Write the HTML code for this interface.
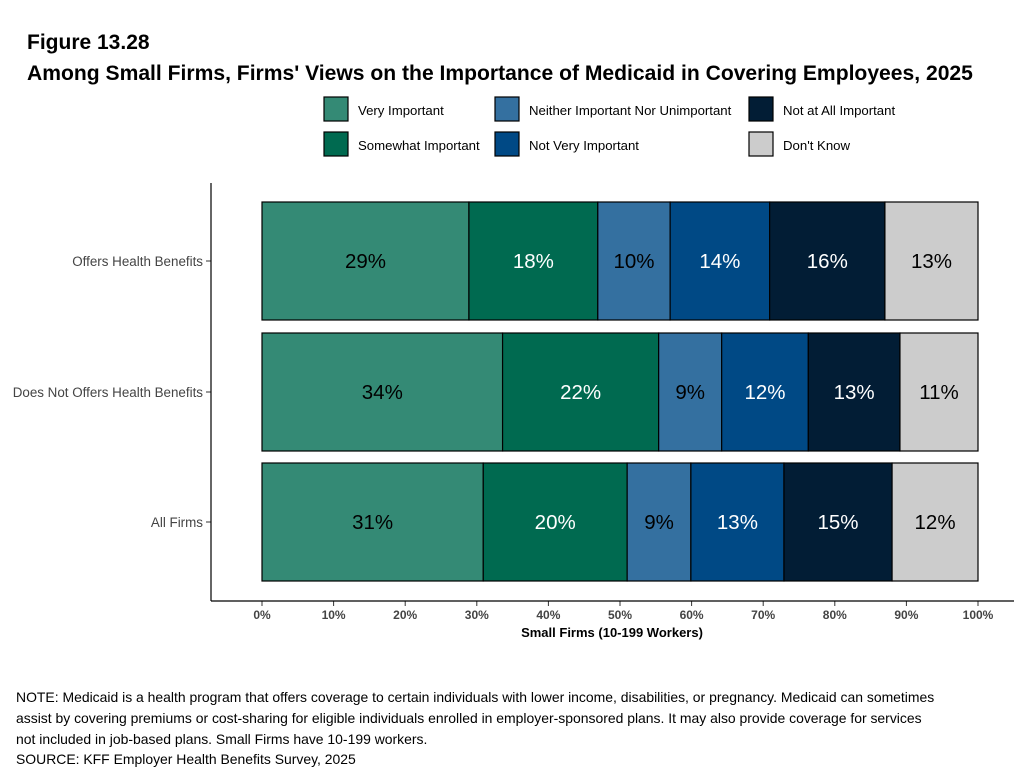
<!DOCTYPE html>
<html><head><meta charset="utf-8"><style>
body{margin:0;background:#fff;width:1023px;height:770px;overflow:hidden;font-family:"Liberation Sans",Arial,sans-serif}
</style></head><body>
<svg width="1023" height="770" font-family="Liberation Sans, Arial, sans-serif">
<text x="27" y="49" font-size="21" font-weight="bold">Figure 13.28</text>
<text x="27" y="80" font-size="21.1" font-weight="bold">Among Small Firms, Firms' Views on the Importance of Medicaid in Covering Employees, 2025</text>
<g id="legend"></g>
<g id="plot"></g>
<line x1="211" y1="183" x2="211" y2="601" stroke="#000" stroke-width="1.2"/>
<line x1="211" y1="601" x2="1014" y2="601" stroke="#000" stroke-width="1.2"/>
<text x="612" y="637" font-size="13" font-weight="bold" text-anchor="middle">Small Firms (10-199 Workers)</text>
<g font-size="13.95">
<text x="16" y="702">NOTE: Medicaid is a health program that offers coverage to certain individuals with lower income, disabilities, or pregnancy. Medicaid can sometimes</text>
<text x="16" y="723">assist by covering premiums or cost-sharing for eligible individuals enrolled in employer-sponsored plans. It may also provide coverage for services</text>
<text x="16" y="744">not included in job-based plans. Small Firms have 10-199 workers.</text>
<text x="16" y="764">SOURCE: KFF Employer Health Benefits Survey, 2025</text>
</g>
</svg>
<script>
const categories=["Offers Health Benefits","Does Not Offers Health Benefits","All Firms"];
const seriesNames=["Very Important","Somewhat Important","Neither Important Nor Unimportant","Not Very Important","Not at All Important","Don't Know"];
const veryImportant=[28.9,33.6,30.9];
const somewhatImportant=[18.0,21.8,20.1];
const neither=[10.1,8.8,8.9];
const notVery=[13.9,12.1,13.0];
const notAtAll=[16.1,12.8,15.1];
const dontKnow=[13.0,10.9,12.0];
const xTicks=[0,10,20,30,40,50,60,70,80,90,100];
const series=[veryImportant,somewhatImportant,neither,notVery,notAtAll,dontKnow];
const colors=["#348a75","#006a50","#3470a0","#004985","#021d35","#cccccc"];
const textColors=["#000","#fff","#000","#fff","#fff","#000"];
const NS="http://www.w3.org/2000/svg";
const x=v=>262+v*7.16;
const rowTop=[202,333,463], bh=118;
const plot=document.getElementById('plot');
function mk(t,a,p){const e=document.createElementNS(NS,t);for(const k in a)e.setAttribute(k,a[k]);p.appendChild(e);return e;}
categories.forEach((c,i)=>{
  const y=rowTop[i];
  let cum=0;
  series.forEach((s,j)=>{
    const v=s[i];
    const r=mk('rect',{x:x(cum),y:y,width:x(cum+v)-x(cum),height:bh,fill:colors[j],stroke:'#000','stroke-width':1.2},plot);
    
    
    const t=mk('text',{x:(x(cum)+x(cum+v))/2,y:y+bh/2+7,'font-size':20.5,'text-anchor':'middle',fill:textColors[j]},plot);
    t.textContent=Math.round(v)+'%';
    
    
    cum+=v;
  });
  const l=mk('text',{x:203,y:y+bh/2+5,'font-size':13.4,'text-anchor':'end',fill:'#444'},plot);
  l.textContent=c;
  
  
  mk('line',{x1:206,x2:211,y1:y+bh/2,y2:y+bh/2,stroke:'#333'},plot);
});
xTicks.forEach(v=>{
  mk('line',{x1:x(v),x2:x(v),y1:601,y2:606,stroke:'#333'},plot);
  const t=mk('text',{x:x(v),y:619,'font-size':12,'font-weight':'bold','text-anchor':'middle',fill:'#444'},plot);
  t.textContent=v+'%';
  
  
});
const lg=document.getElementById('legend');
const lx=[324,495,749], ly=[97,132];
const order=[[0,0,0],[1,0,1],[2,1,0],[3,1,1],[4,2,0],[5,2,1]];
order.forEach(([k,c,r])=>{
  const b=mk('rect',{x:lx[c],y:ly[r],width:24,height:24,fill:colors[k],stroke:'#000','stroke-width':1.2},lg);
  
  
  const t=mk('text',{x:lx[c]+34,y:ly[r]+18,'font-size':13.2},lg);
  t.textContent=seriesNames[k];
  
  
});
</script>
</body></html>
